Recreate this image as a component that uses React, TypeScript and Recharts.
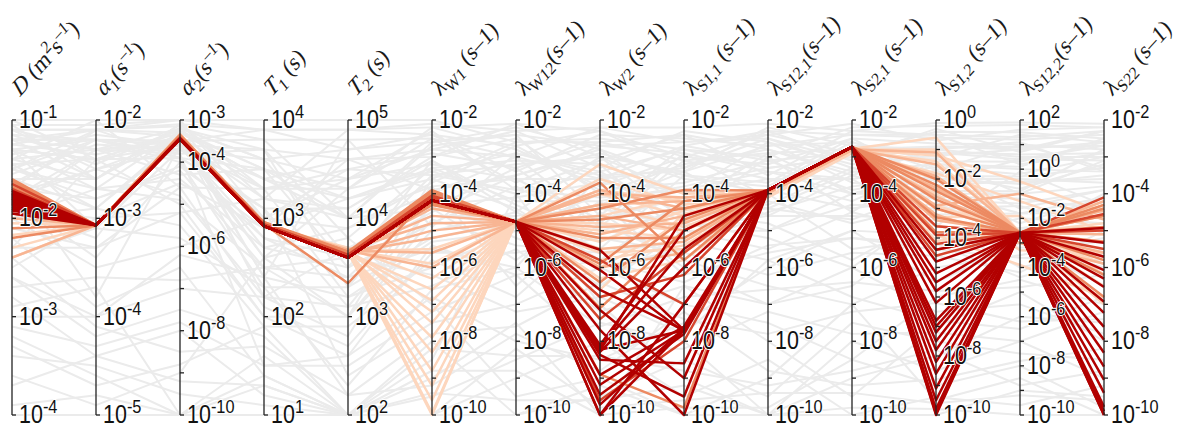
import React from 'react';
import { LineChart, Line, XAxis, YAxis, ReferenceLine, ReferenceDot } from 'recharts';

// log10 range of each parallel axis (bottom, top)
const AXIS_MIN = [-4, -5, -10, 1, 2, -10, -10, -10, -10, -10, -10, -10, -10, -10];
const AXIS_MAX = [-1, -2, -3, 4, 5, -2, -2, -2, -2, -2, -2, 0, 2, -2];

type Seg = [string, 'n' | 'i' | 'sub' | 'sup'];

const HEADERS: Seg[][] = [
  [['D', 'i'], [' (m', 'n'], ['2', 'sup'], ['s', 'n'], ['–1', 'sup'], [')', 'n']],
  [['α', 'i'], ['1', 'sub'], ['(s', 'n'], ['–1', 'sup'], [')', 'n']],
  [['α', 'i'], ['2', 'sub'], ['(s', 'n'], ['–1', 'sup'], [')', 'n']],
  [['T', 'i'], ['1', 'sub'], [' (s)', 'n']],
  [['T', 'i'], ['2', 'sub'], [' (s)', 'n']],
  [['λ', 'n'], ['W1', 'sub'], [' (s–1)', 'n']],
  [['λ', 'n'], ['W12', 'sub'], ['(s–1)', 'n']],
  [['λ', 'n'], ['W2', 'sub'], [' (s–1)', 'n']],
  [['λ', 'n'], ['S1,1', 'sub'], [' (s–1)', 'n']],
  [['λ', 'n'], ['S12,1', 'sub'], ['(s–1)', 'n']],
  [['λ', 'n'], ['S2,1', 'sub'], [' (s–1)', 'n']],
  [['λ', 'n'], ['S1,2', 'sub'], [' (s–1)', 'n']],
  [['λ', 'n'], ['S12,2', 'sub'], ['(s–1)', 'n']],
  [['λ', 'n'], ['S22', 'sub'], [' (s–1)', 'n']],
];

// all parameter sets (log10 values), background
const GRAY_SETS = [
  [-1.2, -2.3, -3.5, 3.2, 4.1, -3.0, -2.5, -4.0, -3.2, -2.8, -3.5, -1.0, 0.5, -3.0],
  [-1.5, -2.8, -4.2, 2.5, 3.4, -5.5, -6.0, -3.5, -4.8, -5.2, -6.0, -3.0, -1.5, -5.0],
  [-2.6, -4.2, -7.5, 1.8, 2.0, -8.5, -4.0, -7.0, -9.0, -10, -8.0, -8.5, -7.0, -9.0],
  [-1.1, -2.1, -3.1, 3.8, 4.8, -2.5, -3.0, -2.2, -2.6, -2.4, -2.9, -0.4, 1.5, -2.5],
  [-3.2, -4.6, -10, 1.3, 2.0, -9.0, -7.5, -10, -6.5, -8.0, -9.5, -7.0, -5.0, -8.0],
  [-1.8, -2.5, -4.8, 2.2, 2.8, -4.2, -5.2, -6.0, -5.5, -4.5, -3.8, -2.0, -2.5, -4.2],
  [-2.0, -3.5, -6.0, 3.0, 4.5, -3.5, -3.2, -3.0, -4.0, -3.6, -4.2, -1.5, 0.0, -3.4],
  [-1.3, -2.2, -3.8, 1.5, 2.6, -6.8, -8.0, -8.5, -7.5, -6.0, -5.0, -5.5, -3.0, -6.5],
  [-3.6, -4.9, -9.0, 2.6, 3.8, -7.0, -9.5, -9.0, -10, -9.0, -7.0, -9.5, -8.5, -10],
  [-1.4, -2.6, -3.3, 3.5, 4.3, -2.2, -2.8, -3.8, -3.0, -3.2, -2.5, -0.8, 1.0, -2.8],
  [-2.3, -2.4, -5.0, 2.0, 3.0, -5.0, -4.5, -5.5, -3.5, -4.0, -5.5, -4.0, -2.0, -4.8],
  [-1.6, -3.8, -3.6, 3.4, 4.0, -3.8, -6.5, -4.5, -6.0, -7.0, -6.5, -3.5, -4.0, -5.5],
  [-2.8, -4.4, -8.0, 1.2, 2.0, -9.5, -8.5, -7.5, -8.0, -10, -9.0, -8.0, -6.0, -7.5],
  [-1.2, -2.2, -4.0, 2.8, 3.6, -4.5, -3.5, -2.8, -4.4, -5.0, -4.0, -2.5, -1.0, -3.8],
  [-1.9, -3.2, -3.2, 3.7, 4.6, -2.8, -2.3, -3.3, -2.3, -2.6, -3.2, -1.2, 0.8, -2.3],
  [-3.9, -4.8, -10, 1.6, 2.0, -10, -9.0, -8.0, -9.5, -8.5, -10, -10, -9.0, -9.5],
  [-1.7, -2.1, -3.4, 2.4, 3.2, -6.0, -5.0, -6.5, -5.0, -5.5, -4.5, -3.8, -3.0, -6.0],
  [-2.5, -3.0, -4.5, 2.9, 4.2, -3.3, -4.2, -4.2, -3.8, -3.3, -3.0, -2.2, -0.5, -3.6],
  [-1.3, -2.4, -3.9, 3.1, 2.4, -7.5, -7.0, -6.0, -7.0, -7.5, -8.5, -6.0, -4.5, -7.0],
  [-2.2, -3.9, -6.5, 1.4, 2.0, -8.0, -10, -9.5, -8.5, -9.5, -7.5, -7.5, -7.5, -8.5],
  [-1.0, -2.0, -3.0, 4.0, 5.0, -2.0, -2.6, -2.5, -2.8, -3.0, -2.2, -0.2, 1.8, -2.2],
  [-1.5, -2.7, -4.4, 2.7, 3.5, -4.8, -3.8, -5.0, -4.5, -4.8, -5.8, -3.2, -1.8, -4.5],
  [-3.0, -4.0, -7.0, 2.2, 3.1, -6.5, -5.5, -7.2, -6.5, -7.0, -6.0, -6.5, -5.5, -7.8],
  [-1.1, -2.5, -3.7, 3.3, 4.4, -3.2, -3.6, -3.6, -3.3, -2.5, -3.3, -1.8, -0.8, -3.2],
  [-2.0, -2.9, -5.5, 1.9, 2.9, -5.8, -6.8, -4.8, -5.8, -6.5, -7.0, -5.0, -3.5, -5.2],
  [-1.4, -2.3, -3.2, 3.6, 4.7, -2.6, -2.2, -2.8, -3.6, -3.8, -2.6, -1.4, 0.3, -2.6],
  [-3.4, -4.5, -9.5, 1.1, 2.0, -8.8, -8.8, -10, -9.8, -9.8, -8.5, -9.0, -8.0, -9.8],
  [-1.8, -3.4, -4.0, 2.3, 3.3, -5.2, -4.8, -3.2, -5.2, -4.2, -4.8, -2.8, -2.8, -4.0],
  [-1.2, -2.2, -3.5, 3.0, 3.9, -4.0, -3.0, -4.8, -2.9, -3.4, -3.6, -1.6, -0.2, -3.0],
  [-2.7, -3.6, -6.8, 2.5, 3.6, -6.2, -7.2, -6.8, -7.8, -5.8, -6.8, -6.8, -6.5, -6.8],
  [-1.6, -2.6, -3.1, 3.9, 4.9, -2.4, -3.4, -2.4, -2.5, -2.7, -2.4, -0.6, 1.2, -2.4],
  [-2.4, -4.1, -8.5, 1.7, 2.2, -9.2, -7.8, -8.8, -7.2, -8.8, -9.2, -8.8, -7.8, -8.2],
  [-1.3, -2.4, -3.6, 2.6, 3.0, -3.6, -4.4, -5.8, -4.2, -3.9, -4.4, -2.6, -1.2, -4.4],
  [-1.9, -3.0, -5.2, 3.2, 4.0, -4.4, -5.8, -4.2, -6.2, -5.6, -5.2, -4.4, -3.6, -5.8],
  [-4.0, -5.0, -10, 1.0, 2.0, -10, -10, -9.2, -10, -10, -9.8, -9.8, -10, -10],
  [-1.1, -2.1, -3.3, 3.4, 4.6, -3.0, -2.1, -3.0, -3.4, -2.2, -2.7, -1.1, 0.6, -2.9],
  [-2.1, -3.3, -4.6, 2.1, 2.7, -5.6, -5.6, -5.2, -5.6, -6.2, -5.6, -4.6, -4.2, -5.0],
  [-1.5, -2.2, -3.9, 3.5, 4.2, -3.4, -4.0, -3.4, -4.6, -4.4, -3.4, -2.0, -0.6, -3.5],
  [-3.1, -4.3, -7.8, 1.5, 2.5, -7.2, -6.2, -8.2, -8.2, -7.2, -7.8, -7.2, -7.0, -7.2],
  [-1.7, -2.8, -4.1, 2.9, 3.7, -4.6, -4.6, -4.4, -4.9, -4.6, -4.6, -3.4, -2.4, -4.6],
  [-1.05, -2.05, -3.0, 3.9, 4.9, -2.1, -2.3, -2.2, -2.2, -2.1, -2.3, -0.1, 1.9, -2.1],
  [-1.25, -2.35, -3.4, 3.3, 4.5, -2.9, -3.3, -2.6, -3.1, -2.9, -2.8, -0.9, 0.9, -2.7],
  [-1.35, -2.15, -3.6, 2.7, 3.9, -3.7, -2.7, -3.9, -3.7, -3.1, -3.9, -1.9, -0.3, -3.3],
  [-1.15, -2.45, -3.2, 3.6, 4.4, -2.3, -3.9, -3.1, -2.4, -3.5, -2.3, -0.5, 0.2, -2.9],
  [-1.55, -2.25, -3.7, 3.1, 3.1, -4.3, -4.1, -3.7, -3.9, -4.4, -4.7, -2.3, -2.2, -4.1],
  [-2.4, -3.1, -5.8, 2.3, 2.3, -6.6, -6.0, -7.6, -6.8, -6.6, -6.4, -5.8, -4.8, -6.2],
  [-1.45, -2.9, -3.5, 3.8, 4.0, -2.7, -2.4, -4.6, -2.7, -2.3, -3.1, -1.3, 1.4, -2.6],
  [-1.2, -2.1, -3.15, 2.9, 4.6, -3.9, -3.5, -2.9, -3.5, -3.7, -2.5, -2.1, 0.4, -3.1],
  [-1.9, -2.3, -4.3, 3.5, 3.5, -3.1, -4.3, -5.3, -4.3, -2.9, -4.0, -1.7, -1.6, -3.9],
  [-1.3, -2.7, -3.3, 2.4, 4.8, -4.9, -2.9, -3.4, -2.8, -3.3, -3.0, -0.3, 0.7, -2.3],
  [-2.9, -3.7, -10, 1.4, 2.0, -9.4, -9.6, -9.6, -9.2, -10, -10, -9.4, -9.6, -9.2],
  [-1.1, -2.3, -3.8, 3.7, 3.8, -3.3, -3.1, -3.2, -4.0, -2.6, -3.7, -2.4, -0.9, -2.8],
  [-1.75, -2.5, -3.45, 2.6, 4.3, -2.5, -3.7, -2.7, -2.9, -4.1, -2.7, -1.0, 1.1, -3.4],
  [-1.4, -2.0, -4.6, 3.3, 3.2, -5.3, -5.0, -4.0, -5.0, -5.0, -4.3, -3.0, -2.6, -4.9],
  [-3.3, -4.7, -8.8, 1.9, 2.0, -8.2, -8.4, -8.4, -8.8, -9.2, -8.8, -7.8, -8.8, -8.8],
  [-1.2, -2.6, -3.1, 3.2, 4.9, -2.2, -2.1, -2.3, -3.0, -2.4, -2.1, -0.7, 1.6, -2.2],
  [-1.65, -2.2, -3.6, 2.8, 3.4, -4.1, -4.7, -4.3, -3.4, -4.6, -3.5, -2.7, -1.4, -3.9],
  [-1.0, -2.4, -3.3, 3.4, 4.2, -3.6, -2.6, -2.6, -2.4, -2.8, -3.4, -1.5, 0.1, -2.5],
  [-2.3, -3.3, -5.2, 2.0, 2.6, -5.4, -6.2, -5.8, -6.4, -5.4, -5.2, -4.2, -4.4, -5.6],
  [-1.5, -2.1, -3.0, 3.0, 4.4, -2.8, -3.0, -3.6, -2.7, -3.1, -2.9, -1.1, 0.4, -2.7],
  [-1.3, -3.1, -3.7, 3.6, 3.6, -3.5, -3.9, -4.1, -3.9, -3.4, -4.0, -2.0, -0.4, -3.7],
  [-2.6, -4.0, -6.2, 2.4, 2.2, -7.8, -7.6, -6.4, -7.4, -7.8, -7.2, -6.2, -6.2, -7.4],
  [-1.15, -2.2, -3.5, 3.9, 4.7, -2.4, -2.7, -2.3, -3.3, -2.3, -2.4, -0.5, 1.3, -2.3],
  [-1.6, -2.9, -3.4, 2.2, 3.7, -4.4, -3.3, -4.9, -3.1, -3.6, -3.6, -3.6, -0.1, -4.3],
  [-1.25, -2.1, -3.9, 3.1, 4.1, -3.1, -4.5, -3.0, -4.7, -3.0, -4.5, -1.3, -1.0, -3.1],
  [-3.7, -4.4, -9.2, 1.3, 2.0, -10, -8.2, -9.8, -9.6, -9.4, -9.4, -9.6, -9.2, -9.6],
  [-1.45, -2.4, -3.25, 3.5, 4.0, -2.6, -2.4, -2.7, -2.6, -2.5, -3.1, -0.9, 0.8, -2.6],
  [-2.0, -2.7, -4.9, 2.5, 3.0, -4.7, -5.4, -5.6, -5.3, -5.8, -5.0, -3.9, -3.2, -5.3],
  [-1.05, -2.6, -3.1, 3.3, 4.3, -3.4, -2.9, -3.5, -3.4, -2.7, -2.6, -1.7, 1.0, -3.3],
  [-1.8, -2.3, -3.6, 3.7, 3.3, -3.8, -3.6, -4.7, -4.1, -4.3, -3.3, -2.4, -1.8, -4.1],
];

// accepted sets, from worst (pale) to best (dark red)
const PALE_SETS = [
  [-1.70, -3.07, -3.35, 2.93, 3.66, -5.5, -4.76, -3.2, -4.0, -3.95, -2.78, -0.6, -2.59, -4.2],
  [-2.17, -3.07, -3.34, 2.94, 3.68, -5.9, -4.76, -3.6, -4.3, -4.0, -2.8, -1.2, -0.5, -4.5],
  [-2.40, -3.07, -3.35, 2.92, 3.70, -6.3, -4.76, -4.0, -4.6, -3.98, -2.82, -1.4, -2.59, -4.8],
  [-1.65, -3.07, -3.36, 2.93, 3.65, -6.6, -4.76, -4.3, -4.9, -4.05, -2.85, -1.8, -1.3, -5.0],
  [-1.75, -3.07, -3.35, 2.94, 3.67, -6.9, -4.76, -4.6, -4.1, -3.96, -2.8, -2.2, -2.59, -5.3],
  [-1.90, -3.07, -3.34, 2.93, 3.66, -7.2, -4.76, -5.0, -5.2, -4.1, -2.9, -2.5, -3.3, -5.6],
  [-2.05, -3.07, -3.35, 2.92, 3.69, -7.5, -4.76, -5.3, -4.45, -3.97, -2.83, -2.9, -2.59, -5.9],
  [-1.80, -3.07, -3.36, 2.94, 3.64, -7.9, -4.76, -5.6, -5.5, -4.02, -2.79, -3.3, -1.9, -6.2],
  [-1.70, -3.07, -3.35, 2.93, 3.66, -8.3, -4.76, -6.0, -4.75, -3.99, -2.86, -3.6, -2.59, -6.5],
  [-1.95, -3.07, -3.34, 2.95, 3.68, -8.8, -4.76, -6.3, -5.8, -4.08, -2.88, -3.9, -3.9, -6.8],
  [-1.85, -3.07, -3.35, 2.93, 3.67, -9.2, -4.76, -3.9, -4.2, -3.96, -2.81, -1.0, -2.59, -4.4],
  [-1.68, -3.07, -3.36, 2.94, 3.65, -9.6, -4.76, -4.8, -5.0, -4.03, -2.84, -2.0, -2.59, -5.1],
  [-2.30, -3.07, -3.35, 2.92, 3.69, -9.95, -4.76, -5.8, -5.4, -4.06, -2.87, -3.0, -2.59, -5.7],
  [-1.78, -3.07, -3.34, 2.93, 3.66, -10, -4.76, -6.6, -4.55, -4.0, -2.8, -4.1, -2.59, -7.0],
];

const LIGHT_SETS = [
  [-1.66, -3.07, -3.36, 2.93, 3.66, -4.4, -4.76, -4.0, -4.1, -3.95, -2.8, -1.5, -2.59, -4.3],
  [-2.00, -3.07, -3.35, 2.94, 3.68, -4.8, -4.76, -4.9, -4.8, -3.97, -2.78, -2.6, -2.59, -5.6],
  [-1.70, -3.07, -3.36, 2.95, 3.65, -5.2, -4.76, -5.5, -5.3, -3.96, -2.8, -1.9, -2.59, -4.6],
  [-2.40, -3.07, -3.34, 2.92, 3.67, -5.6, -4.76, -3.9, -4.4, -3.95, -2.77, -3.4, -2.59, -5.1],
  [-1.80, -3.07, -3.36, 2.94, 3.66, -4.6, -4.76, -6.0, -5.6, -3.98, -2.82, -2.9, -1.0, -4.7],
  [-1.64, -3.07, -3.35, 2.93, 3.64, -5.0, -4.76, -4.3, -4.2, -3.96, -2.79, -1.1, -2.59, -4.2],
  [-1.85, -3.07, -3.37, 2.95, 3.65, -4.3, -4.76, -5.1, -4.6, -3.95, -2.8, -3.2, -3.0, -5.9],
  [-1.72, -3.07, -3.36, 2.93, 3.67, -6.0, -4.76, -4.6, -5.0, -3.97, -2.81, -2.3, -2.59, -4.45],
];

const ORANGE_SETS = [
  [-1.62, -3.07, -3.38, 2.95, 3.64, -3.95, -4.76, -4.7, -4.4, -3.9, -2.73, -2.4, -2.59, -4.6],
  [-2.10, -3.07, -3.40, 2.94, 3.34, -4.0, -4.76, -5.2, -5.2, -3.9, -2.73, -3.0, -2.59, -4.3],
  [-1.68, -3.07, -3.39, 2.96, 3.65, -4.25, -4.76, -3.7, -5.8, -3.9, -2.73, -2.0, -2.59, -4.4],
  [-1.72, -3.07, -3.37, 2.95, 3.66, -3.9, -4.76, -5.9, -4.2, -3.92, -2.74, -3.3, -2.59, -5.3],
  [-1.95, -3.07, -3.40, 2.93, 3.63, -4.3, -4.76, -6.4, -4.7, -3.9, -2.73, -2.7, -2.59, -6.2],
  [-1.75, -3.07, -3.38, 2.94, 3.62, -4.1, -4.76, -4.4, -3.9, -3.91, -2.74, -3.8, -2.59, -4.9],
  [-2.20, -3.07, -3.36, 2.95, 3.64, -4.0, -4.76, -7.1, -5.0, -3.93, -2.75, -2.2, -2.59, -5.8],
  [-1.60, -3.07, -3.37, 2.96, 3.66, -4.2, -4.76, -8.9, -9.8, -3.9, -2.73, -4.4, -2.59, -6.8],
];

const RED_SETS = [
  [-1.70, -3.07, -3.42, 2.93, 3.62, -4.15, -4.76, -6.8, -6.2, -3.9, -2.73, -4.2, -2.59, -5.0],
  [-1.90, -3.07, -3.44, 2.92, 3.61, -4.2, -4.76, -7.4, -5.6, -3.9, -2.73, -3.9, -2.59, -4.1],
  [-1.80, -3.07, -3.43, 2.93, 3.60, -4.1, -4.76, -5.8, -7.0, -3.9, -2.73, -3.6, -2.59, -4.55],
  [-1.65, -3.07, -3.41, 2.94, 3.63, -4.05, -4.76, -9.6, -8.0, -3.9, -2.73, -4.6, -2.59, -5.5],
];

const DARK_SETS = [
  [-1.72, -3.07, -3.45, 2.92, 3.60, -4.18, -4.76, -8.23, -7.7, -3.9, -2.73, -4.4, -2.59, -4.93],
  [-1.78, -3.07, -3.44, 2.92, 3.60, -4.18, -4.76, -8.29, -6.0, -3.9, -2.73, -4.8, -2.59, -5.33],
  [-1.82, -3.07, -3.46, 2.92, 3.60, -4.18, -4.76, -8.37, -9.5, -3.9, -2.73, -5.2, -2.59, -5.71],
  [-1.85, -3.07, -3.45, 2.92, 3.60, -4.18, -4.76, -8.10, -5.0, -3.9, -2.73, -5.5, -2.59, -6.07],
  [-1.75, -3.07, -3.45, 2.92, 3.60, -4.18, -4.76, -10, -7.7, -3.9, -2.73, -5.8, -2.59, -6.53],
  [-1.90, -3.07, -3.44, 2.92, 3.60, -4.18, -4.76, -9.72, -7.65, -3.9, -2.73, -6.2, -2.59, -6.93],
  [-1.80, -3.07, -3.45, 2.92, 3.60, -4.18, -4.76, -9.45, -7.8, -3.9, -2.73, -6.8, -2.59, -7.23],
  [-1.76, -3.07, -3.46, 2.92, 3.60, -4.18, -4.76, -9.18, -7.7, -3.9, -2.73, -7.0, -2.59, -7.61],
  [-1.88, -3.07, -3.45, 2.92, 3.60, -4.18, -4.76, -8.91, -7.6, -3.9, -2.73, -7.2, -2.59, -7.96],
  [-1.83, -3.07, -3.44, 2.92, 3.60, -4.18, -4.76, -7.69, -10, -3.9, -2.73, -7.5, -2.59, -8.31],
  [-1.79, -3.07, -3.45, 2.92, 3.60, -4.18, -4.76, -7.15, -9.0, -3.9, -2.73, -7.8, -2.59, -8.69],
  [-1.86, -3.07, -3.46, 2.92, 3.60, -4.18, -4.76, -6.61, -7.7, -3.9, -2.73, -8.2, -2.59, -9.05],
  [-1.74, -3.07, -3.45, 2.92, 3.60, -4.18, -4.76, -6.07, -7.75, -3.9, -2.73, -8.6, -2.59, -9.40],
  [-1.92, -3.07, -3.44, 2.92, 3.60, -4.18, -4.76, -5.52, -7.7, -3.9, -2.73, -9.1, -2.59, -9.78],
  [-1.81, -3.07, -3.45, 2.92, 3.60, -4.18, -4.76, -8.5, -8.6, -3.9, -2.73, -9.5, -2.59, -10],
  [-1.77, -3.07, -3.46, 2.92, 3.60, -4.18, -4.76, -8.18, -5.5, -3.9, -2.73, -9.8, -2.59, -10],
  [-1.84, -3.07, -3.45, 2.92, 3.60, -4.18, -4.76, -10, -7.0, -3.9, -2.73, -10, -2.59, -9.9],
  [-1.95, -3.07, -3.44, 2.92, 3.60, -4.18, -4.76, -8.25, -4.6, -3.9, -2.73, -9.95, -2.59, -6.3],
];

const GROUPS = [
  { key: 'g', sets: GRAY_SETS, color: '#ebebeb', width: 2 },
  { key: 'p', sets: PALE_SETS, color: '#fdd6bd', width: 2.5 },
  { key: 'l', sets: LIGHT_SETS, color: '#f8b593', width: 2.5 },
  { key: 'o', sets: ORANGE_SETS, color: '#ec8a62', width: 2.5 },
  { key: 'r', sets: RED_SETS, color: '#d6452d', width: 2.5 },
  { key: 'd', sets: DARK_SETS, color: '#b20000', width: 2.5 },
];

const norm = (v: number, i: number) => (v - AXIS_MIN[i]) / (AXIS_MAX[i] - AXIS_MIN[i]);

const rows = AXIS_MIN.map((_, i) => {
  const row: Record<string, number> = { x: i };
  GROUPS.forEach((g) => g.sets.forEach((s, k) => { row[`${g.key}${k}`] = norm(s[i], i); }));
  return row;
});

const ticks: { axis: number; exp: number; label: boolean }[] = [];
AXIS_MIN.forEach((lo, i) => {
  const hi = AXIS_MAX[i];
  for (let e = lo; e <= hi; e++) {
    ticks.push({ axis: i, exp: e, label: hi - lo <= 3 || e === hi || e % 2 === 0 });
  }
});

const HeaderText = ({ segs }: { segs: Seg[] }) => {
  let shift = 0;
  return (
    <text x={0} y={0} fontFamily="'Liberation Serif', 'Times New Roman', serif" fontSize={25} fill="#1a1a1a">
      {segs.map(([t, kind], k) => {
        const target = kind === 'sub' ? 6 : kind === 'sup' ? -10 : 0;
        const dy = target - shift;
        shift = target;
        return (
          <tspan
            key={k}
            dy={dy}
            fontSize={kind === 'sub' || kind === 'sup' ? 18 : 25}
            fontStyle={kind === 'i' ? 'italic' : 'normal'}
          >
            {t}
          </tspan>
        );
      })}
    </text>
  );
};

const renderTick = (p: any, exp: number, label: boolean) => (
  <g>
    <line x1={p.cx} x2={p.cx + 4} y1={p.cy} y2={p.cy} stroke="#222" strokeWidth={1.3} />
    {label && (
      <g transform={`translate(${p.cx + 7},${p.cy + 8}) scale(0.86,1)`}>
        <text
          x={0}
          y={0}
          fontFamily="'Liberation Sans', Arial, sans-serif"
          fontSize={25}
          fill="#111"
          stroke="#fff"
          strokeWidth={2}
          paintOrder="stroke"
        >
          <tspan>10</tspan>
          <tspan dy={-10} fontSize={19}>{String(exp)}</tspan>
        </text>
      </g>
    )}
  </g>
);

const renderHeader = (p: any, i: number) => (
  <g transform={`translate(${p.cx + 8},${p.cy - 23}) scale(0.85,1) rotate(-43)`}>
    <HeaderText segs={HEADERS[i]} />
  </g>
);

export default function App() {
  return (
    <LineChart width={1180} height={426} data={rows} margin={{ top: 112, right: 84, bottom: 19, left: 4 }}>
      <XAxis dataKey="x" type="number" domain={[0, AXIS_MIN.length - 1]} hide />
      <YAxis type="number" domain={[0, 1]} hide />
      {GROUPS.map((g) =>
        g.sets.map((_, k) => (
          <Line
            key={`${g.key}${k}`}
            dataKey={`${g.key}${k}`}
            type="linear"
            stroke={g.color}
            strokeWidth={g.width}
            strokeLinejoin="round"
            dot={false}
            activeDot={false}
            isAnimationActive={false}
          />
        ))
      )}
      {AXIS_MIN.map((_, i) => (
        <ReferenceLine key={`ax${i}`} x={i} stroke="#222" strokeWidth={1.3} />
      ))}
      {ticks.map((t) => (
        <ReferenceDot
          key={`t${t.axis}_${t.exp}`}
          x={t.axis}
          y={norm(t.exp, t.axis)}
          r={0}
          shape={(p: any) => renderTick(p, t.exp, t.label)}
        />
      ))}
      {AXIS_MIN.map((_, i) => (
        <ReferenceDot key={`h${i}`} x={i} y={1} r={0} shape={(p: any) => renderHeader(p, i)} />
      ))}
    </LineChart>
  );
}
